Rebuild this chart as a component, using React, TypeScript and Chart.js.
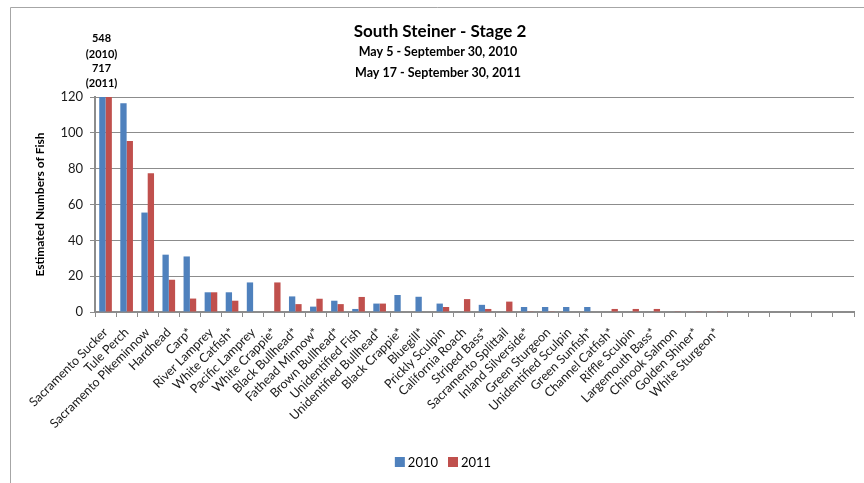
import React, { useEffect, useRef } from 'react';
import { Chart, registerables } from 'chart.js';

Chart.register(...registerables);

const categories = [
  'Sacramento Sucker', 'Tule Perch', 'Sacramento Pikeminnow', 'Hardhead', 'Carp*',
  'River Lamprey', 'White Catfish*', 'Pacific Lamprey', 'White Crappie*', 'Black Bullhead*',
  'Fathead Minnow*', 'Brown Bullhead*', 'Unidentified Fish', 'Unidentified Bullhead*', 'Black Crappie*',
  'Bluegill*', 'Prickly Sculpin', 'California Roach', 'Striped Bass*', 'Sacramento Splittail',
  'Inland Silverside*', 'Green Sturgeon', 'Unidentified Sculpin', 'Green Sunfish*', 'Channel Catfish*',
  'Riffle Sculpin', 'Largemouth Bass*', 'Chinook Salmon', 'Golden Shiner*', 'White Sturgeon*',
  '', '', '', '', '', '',
];

const values2010 = [
  548, 116.5, 55.5, 32, 31,
  11, 11, 16.5, 0, 8.7,
  3, 6.3, 1.7, 4.7, 9.5,
  8.5, 4.7, 0, 4, 0,
  2.8, 2.8, 2.8, 2.8, 0,
  0, 0, 0, 0, 0,
  null, null, null, null, null, null,
];

const values2011 = [
  717, 95.5, 77.5, 18, 7.5,
  11, 6.3, 0, 16.5, 4.4,
  7.4, 4.4, 8.4, 4.7, 0,
  0, 2.8, 7.2, 1.7, 5.8,
  0.4, 0.4, 0, 0, 1.7,
  1.7, 1.7, 0.4, 0.4, 0.4,
  null, null, null, null, null, null,
];

const seriesNames = ['2010', '2011'];
const seriesColors = ['#4F81BD', '#C0504D'];
const yMin = 0;
const yMax = 120;
const yStep = 20;

const titleText = 'South Steiner - Stage 2';
const subtitleLines = ['May 5 - September 30, 2010', 'May 17 - September 30, 2011'];
const offscaleNote = ['548', '(2010)', '717', '(2011)'];
const yTitle = 'Estimated Numbers of Fish';

const FONT = 'Lato, "Open Sans", sans-serif';

const decorPlugin = {
  id: 'decor',
  beforeDraw(chart: any) {
    const ctx = chart.ctx as CanvasRenderingContext2D;
    ctx.save();
    ctx.fillStyle = '#ffffff';
    ctx.fillRect(0, 0, chart.width, chart.height);
    ctx.strokeStyle = '#a6a6a6';
    ctx.lineWidth = 1;
    ctx.beginPath();
    ctx.moveTo(10.5, chart.height);
    ctx.lineTo(10.5, 7.5);
    ctx.lineTo(chart.width, 7.5);
    ctx.stroke();
    ctx.restore();
  },
  afterDraw(chart: any) {
    const ctx = chart.ctx as CanvasRenderingContext2D;
    const xs = chart.scales.x;
    const area = chart.chartArea;
    ctx.save();
    ctx.fillStyle = '#000';
    ctx.textAlign = 'center';
    ctx.textBaseline = 'middle';

    // Title
    ctx.font = `bold 17px ${FONT}`;
    ctx.fillText(titleText, 440, 32);
    ctx.font = `bold 12.5px ${FONT}`;
    ctx.fillText(subtitleLines[0], 438, 52);
    ctx.fillText(subtitleLines[1], 438, 73);

    // Off-scale note above first category
    const x0 = xs.getPixelForValue(0) - 4;
    ctx.font = `bold 11px ${FONT}`;
    const noteY = [38, 54, 68, 83];
    offscaleNote.forEach((t, i) => ctx.fillText(t, x0, noteY[i]));

    // Y axis title
    ctx.save();
    ctx.translate(40, (area.top + area.bottom) / 2);
    ctx.rotate(-Math.PI / 2);
    ctx.font = `bold 12px ${FONT}`;
    ctx.fillText(yTitle, 0, 0);
    ctx.restore();

    // Legend
    ctx.font = `13px ${FONT}`;
    ctx.textAlign = 'left';
    const box = 10;
    const gapBoxText = 3;
    const gapItems = 10;
    const widths = seriesNames.map((n) => ctx.measureText(n).width);
    const total = widths.reduce((a, w) => a + box + gapBoxText + w, 0) + gapItems * (seriesNames.length - 1);
    let lx = 443 - total / 2;
    const ly = 462;
    seriesNames.forEach((n, i) => {
      ctx.fillStyle = seriesColors[i];
      ctx.fillRect(lx, ly - box / 2, box, box);
      ctx.fillStyle = '#000';
      ctx.fillText(n, lx + box + gapBoxText, ly + 1);
      lx += box + gapBoxText + widths[i] + gapItems;
    });
    ctx.restore();
  },
};

export default function App() {
  const canvasRef = useRef<HTMLCanvasElement | null>(null);

  useEffect(() => {
    if (!canvasRef.current) return;
    Chart.defaults.font.family = FONT;
    const chart = new Chart(canvasRef.current, {
      type: 'bar',
      data: {
        labels: categories,
        datasets: [
          {
            label: seriesNames[0],
            data: values2010 as any,
            backgroundColor: seriesColors[0],
            categoryPercentage: 0.6,
            barPercentage: 1.0,
          },
          {
            label: seriesNames[1],
            data: values2011 as any,
            backgroundColor: seriesColors[1],
            categoryPercentage: 0.6,
            barPercentage: 1.0,
          },
        ],
      },
      options: {
        animation: false,
        responsive: false,
        devicePixelRatio: 1,
        layout: { padding: { top: 97, left: 0, right: 10, bottom: 41 } },
        plugins: {
          legend: { display: false },
          title: { display: false },
          tooltip: { enabled: false },
        },
        scales: {
          x: {
            offset: true,
            grid: {
              offset: true,
              drawOnChartArea: false,
              drawTicks: true,
              tickLength: 5,
              color: '#8c8c8c',
            },
            border: { display: true, color: '#8c8c8c', width: 2 },
            ticks: {
              autoSkip: false,
              minRotation: 45,
              maxRotation: 45,
              padding: 8,
              color: '#1a1a1a',
              font: { family: FONT, size: 12.5 },
            },
            afterFit(scale: any) {
              scale.height = 130;
            },
          },
          y: {
            min: yMin,
            max: yMax,
            ticks: {
              stepSize: yStep,
              padding: 7,
              color: '#1a1a1a',
              font: { family: FONT, size: 13 },
            },
            grid: {
              color: '#8c8c8c',
              lineWidth: 1,
              tickLength: 5,
              drawTicks: true,
            },
            border: { display: true, color: '#8c8c8c', width: 2 },
            afterFit(scale: any) {
              scale.width = 95;
            },
          },
        },
      },
      plugins: [decorPlugin],
    });
    return () => chart.destroy();
  }, []);

  return (
    <div style={{ position: 'absolute', left: 0, top: 0, width: 864, height: 483, background: '#fff' }}>
      <canvas ref={canvasRef} width={864} height={483} style={{ width: 864, height: 483, display: 'block' }} />
    </div>
  );
}
